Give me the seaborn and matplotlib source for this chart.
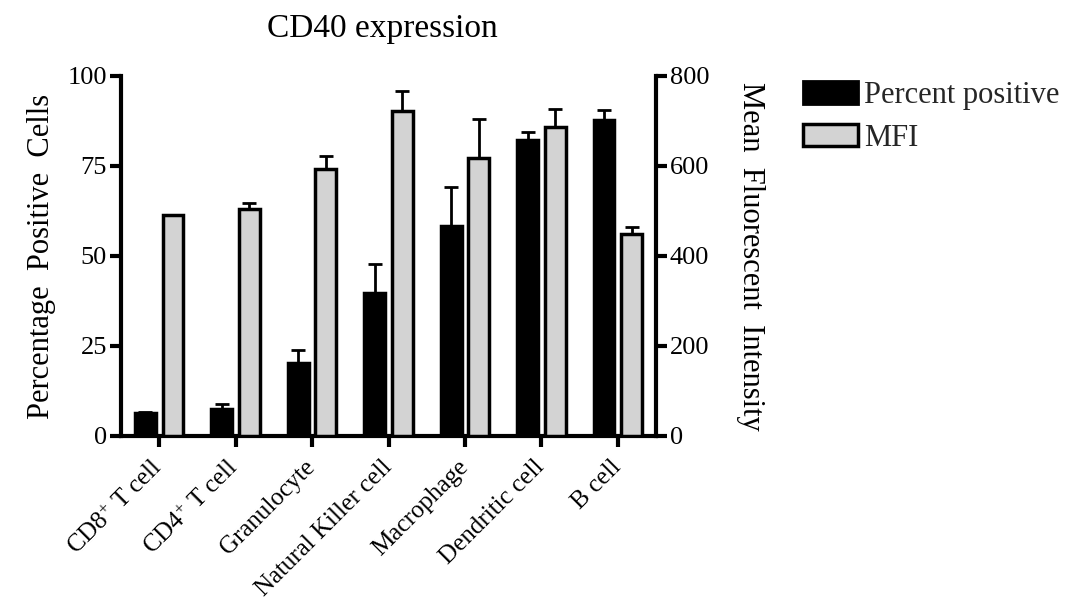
import numpy as np
import pandas as pd
import matplotlib
matplotlib.use("Agg")
import matplotlib.pyplot as plt
import seaborn as sns
from matplotlib.patches import Patch

categories = ["CD8$^{\\mathregular{+}}$ T cell", "CD4$^{\\mathregular{+}}$ T cell", "Granulocyte",
              "Natural Killer cell", "Macrophage", "Dendritic cell", "B cell"]
percent_positive = [6.4, 7.5, 20.3, 39.8, 58.2, 82.2, 87.7]
percent_err = [0.3, 1.4, 3.7, 8.1, 10.9, 2.2, 2.8]
mfi = [491, 505, 593, 722, 617, 687, 448]
mfi_err = [1, 12, 30, 44, 87, 40, 17]
series = ["Percent positive", "MFI"]

sns.set_theme(style="white")
plt.rcParams['font.family'] = ['Liberation Serif', 'DejaVu Serif']
plt.rcParams['mathtext.fontset'] = 'custom'
plt.rcParams['mathtext.rm'] = 'Liberation Serif'
plt.rcParams['mathtext.it'] = 'Liberation Serif:italic'

df_pct = pd.DataFrame({"cell": categories, "value": percent_positive, "series": series[0]})
df_mfi = pd.DataFrame({"cell": categories, "value": mfi, "series": series[1]})

fig = plt.figure(figsize=(10.73, 6.11), dpi=100)
ax = fig.add_axes([121/1073, 1-436/611, (656-121)/1073, (436-76)/611])
ax2 = ax.twinx()

pal = {series[0]: "black", series[1]: "#d3d3d3"}
lw = 2.5
sns.barplot(data=df_pct, x="cell", y="value", hue="series", hue_order=series, order=categories,
            palette=pal, width=0.72, gap=0.24, dodge=True, errorbar=None, edgecolor="black",
            linewidth=lw, legend=False, ax=ax)
sns.barplot(data=df_mfi, x="cell", y="value", hue="series", hue_order=series, order=categories,
            palette=pal, width=0.72, gap=0.24, dodge=True, errorbar=None, edgecolor="black",
            linewidth=lw, legend=False, ax=ax2)

def add_err(axis, vals, errs):
    xs = [p.get_x() + p.get_width()/2 for p in axis.patches]
    axis.errorbar(xs, vals, yerr=[np.zeros(len(errs)), errs], fmt="none",
                  ecolor="black", elinewidth=2, capsize=5, capthick=2, zorder=1)

add_err(ax, percent_positive, percent_err)
add_err(ax2, mfi, mfi_err)

ax.set_xlim(-0.5, 6.5)
ax.set_ylim(0, 100)
ax2.set_ylim(0, 800)
ax.set_yticks([0, 25, 50, 75, 100])
ax2.set_yticks([0, 200, 400, 600, 800])

for a in (ax, ax2):
    a.spines['top'].set_visible(False)
ax.spines['right'].set_visible(False)
ax2.spines['left'].set_visible(False)
ax2.spines['bottom'].set_visible(False)
for s in ['left', 'bottom']:
    ax.spines[s].set_linewidth(3)
    ax.spines[s].set_color('black')
ax2.spines['right'].set_linewidth(3)
ax2.spines['right'].set_color('black')

ax.tick_params(axis='y', direction='out', length=8, width=3, color='black',
               labelsize=19, labelcolor='black', left=True, pad=2)
ax.tick_params(axis='x', direction='out', length=8, width=3, color='black',
               labelsize=18, labelcolor='black', bottom=True, pad=12)
ax2.tick_params(axis='y', direction='out', length=8, width=3, color='black',
                labelsize=19, labelcolor='black', right=True, pad=2)
ax.set_xticks(range(len(categories)))
ax.set_xticklabels(categories, rotation=45, ha='right', va='center',
                   rotation_mode='anchor', fontsize=18)

ax.set_xlabel("")
ax.set_ylabel("Percentage  Positive  Cells", fontsize=22, labelpad=8, color='black')
ax2.set_ylabel("Mean  Fluorescent  Intensity", fontsize=22, rotation=270, labelpad=40, color='black')
ax.set_title("CD40 expression", fontsize=24, pad=28, color='black', x=0.489)

handles = [Patch(facecolor="black", edgecolor="black", linewidth=2),
           Patch(facecolor="#d3d3d3", edgecolor="black", linewidth=2.5)]
fig.legend(handles, series, loc="upper left", bbox_to_anchor=(803/1073, 1-81/611),
           frameon=False, fontsize=22, handlelength=1.8, handleheight=0.75,
           handletextpad=0.2, labelspacing=0.45, borderaxespad=0, borderpad=0)

fig.savefig("out.png", dpi=100)
